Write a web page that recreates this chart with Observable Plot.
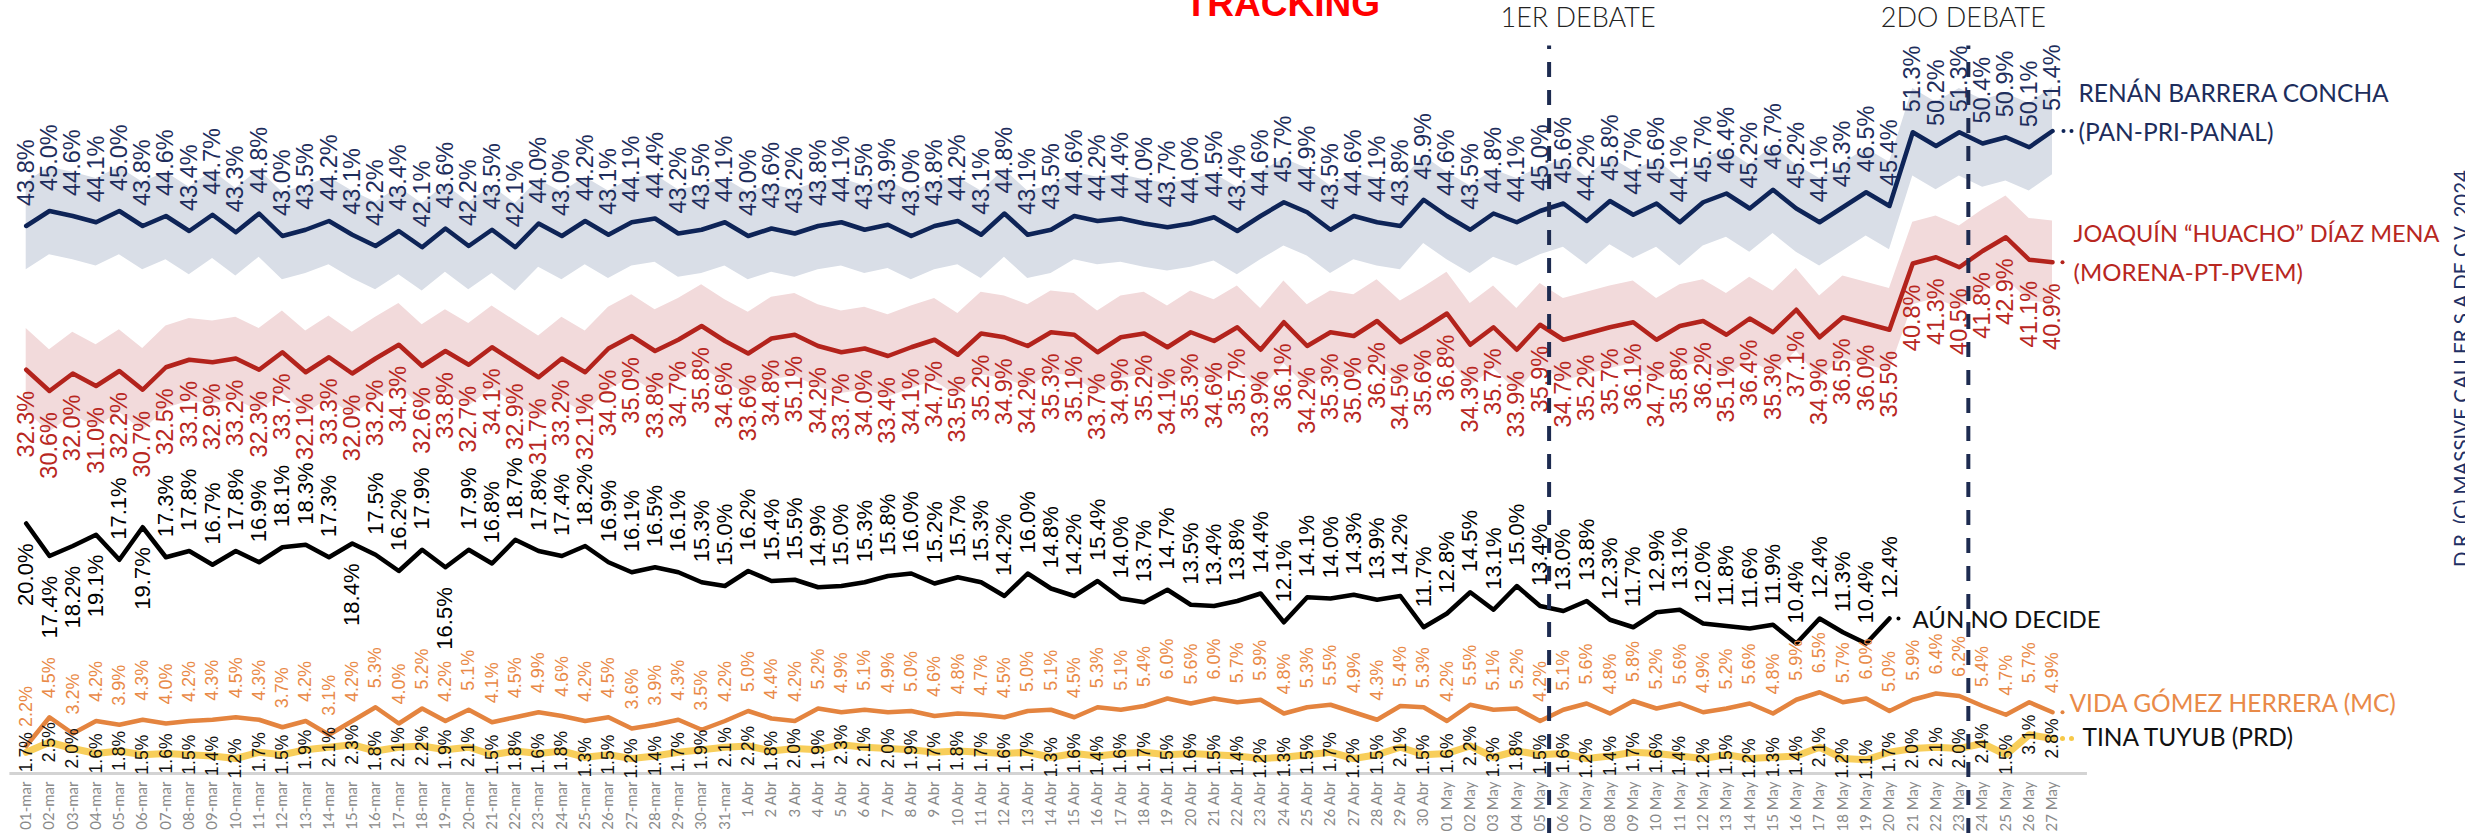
<!DOCTYPE html>
<html><head><meta charset="utf-8">
<script src="https://cdn.jsdelivr.net/npm/d3@7"></script>
<script src="https://cdn.jsdelivr.net/npm/@observablehq/plot@0.6"></script>
<style>html,body{margin:0;padding:0;background:#fff;overflow:hidden} svg{display:block}</style>
</head><body><div id="chart"></div>
<script>
const dates = ["01-mar","02-mar","03-mar","04-mar","05-mar","06-mar","07-mar","08-mar","09-mar","10-mar","11-mar","12-mar","13-mar","14-mar","15-mar","16-mar","17-mar","18-mar","19-mar","20-mar","21-mar","22-mar","23-mar","24-mar","25-mar","26-mar","27-mar","28-mar","29-mar","30-mar","31-mar",
"1 Abr","2 Abr","3 Abr","4 Abr","5 Abr","6 Abr","7 Abr","8 Abr","9 Abr","10 Abr","11 Abr","12 Abr","13 Abr","14 Abr","15 Abr","16 Abr","17 Abr","18 Abr","19 Abr","20 Abr","21 Abr","22 Abr","23 Abr","24 Abr","25 Abr","26 Abr","27 Abr","28 Abr","29 Abr","30 Abr",
"01 May","02 May","03 May","04 May","05 May","06 May","07 May","08 May","09 May","10 May","11 May","12 May","13 May","14 May","15 May","16 May","17 May","18 May","19 May","20 May","21 May","22 May","23 May","24 May","25 May","26 May","27 May"];

const renan = [43.8,45.0,44.6,44.1,45.0,43.8,44.6,43.4,44.7,43.3,
44.8,43.0,43.5,44.2,43.1,42.2,43.4,42.1,43.6,42.2,
43.5,42.1,44.0,43.0,44.2,43.1,44.1,44.4,43.2,43.5,
44.1,43.0,43.6,43.2,43.8,44.1,43.5,43.9,43.0,43.8,
44.2,43.1,44.8,43.1,43.5,44.6,44.2,44.4,44.0,43.7,
44.0,44.5,43.4,44.6,45.7,44.9,43.5,44.6,44.1,43.8,
45.9,44.6,43.5,44.8,44.1,45.0,45.6,44.2,45.8,44.7,
45.6,44.1,45.7,46.4,45.2,46.7,45.2,44.1,45.3,46.5,
45.4,51.3,50.2,51.3,50.4,50.9,50.1,51.4];

const huacho = [32.3,30.6,32.0,31.0,32.2,30.7,32.5,33.1,32.9,33.2,
32.3,33.7,32.1,33.3,32.0,33.2,34.3,32.6,33.8,32.7,
34.1,32.9,31.7,33.2,32.1,34.0,35.0,33.8,34.7,35.8,
34.6,33.6,34.8,35.1,34.2,33.7,34.0,33.4,34.1,34.7,
33.5,35.2,34.9,34.2,35.3,35.1,33.7,34.9,35.2,34.1,
35.3,34.6,35.7,33.9,36.1,34.2,35.3,35.0,36.2,34.5,
35.6,36.8,34.3,35.7,33.9,35.9,34.7,35.2,35.7,36.1,
34.7,35.8,36.2,35.1,36.4,35.3,37.1,34.9,36.5,36.0,
35.5,40.8,41.3,40.5,41.8,42.9,41.1,40.9];

const noDecide = [20.0,17.4,18.2,19.1,17.1,19.7,17.3,17.8,16.7,17.8,
16.9,18.1,18.3,17.3,18.4,17.5,16.2,17.9,16.5,17.9,
16.8,18.7,17.8,17.4,18.2,16.9,16.1,16.5,16.1,15.3,
15.0,16.2,15.4,15.5,14.9,15.0,15.3,15.8,16.0,15.2,
15.7,15.3,14.2,16.0,14.8,14.2,15.4,14.0,13.7,14.7,
13.5,13.4,13.8,14.4,12.1,14.1,14.0,14.3,13.9,14.2,
11.7,12.8,14.5,13.1,15.0,13.4,13.0,13.8,12.3,11.7,
12.9,13.1,12.0,11.8,11.6,11.9,10.4,12.4,11.3,10.4,
12.4];
const noDecideBelow = [0,1,2,3,5,14,18];

const vida = [2.2,4.5,3.2,4.2,3.9,4.3,4.0,4.2,4.3,4.5,
4.3,3.7,4.2,3.1,4.2,5.3,4.0,5.2,4.2,5.1,
4.1,4.5,4.9,4.6,4.2,4.5,3.6,3.9,4.3,3.5,
4.2,5.0,4.4,4.2,5.2,4.9,5.1,4.9,5.0,4.6,
4.8,4.7,4.5,5.0,5.1,4.5,5.3,5.1,5.4,6.0,
5.6,6.0,5.7,5.9,4.8,5.3,5.5,4.9,4.3,5.4,
5.3,4.2,5.5,5.1,5.2,4.2,5.1,5.6,4.8,5.8,
5.2,5.6,4.9,5.2,5.6,4.8,5.9,6.5,5.7,6.0,
5.0,5.9,6.4,6.2,5.4,4.7,5.7,4.9];

const tina = [1.7,2.5,2.0,1.6,1.8,1.5,1.6,1.5,1.4,1.2,
1.7,1.5,1.9,2.1,2.3,1.8,2.1,2.2,1.9,2.1,
1.5,1.8,1.6,1.8,1.3,1.5,1.2,1.4,1.7,1.9,
2.1,2.2,1.8,2.0,1.9,2.3,2.1,2.0,1.9,1.7,
1.8,1.7,1.6,1.7,1.3,1.6,1.4,1.6,1.7,1.5,
1.6,1.5,1.4,1.2,1.3,1.5,1.7,1.2,1.5,2.1,
1.5,1.6,2.2,1.3,1.8,1.5,1.6,1.2,1.4,1.7,
1.6,1.4,1.2,1.5,1.2,1.3,1.4,2.1,1.2,1.1,
1.7,2.0,2.1,2.0,2.4,1.5,3.1,2.8];

// margin of error (percentage points)
const renanMargin = 3.5;
const huachoMargin = 3.3;

const debates = [{label: "1ER DEBATE", day: "05 May"}, {label: "2DO DEBATE", day: "23 May"}];

const legendRenan = ["RENÁN BARRERA CONCHA", "(PAN-PRI-PANAL)"];
const legendHuacho = ["JOAQUÍN “HUACHO” DÍAZ MENA", "(MORENA-PT-PVEM)"];
const legendNoDecide = "AÚN NO DECIDE";
const legendVida = "VIDA GÓMEZ HERRERA (MC)";
const legendTina = "TINA TUYUB (PRD)";
const title = "TRACKING";
const credit = "D.R. (C) MASSIVE CALLER S.A DE C.V. 2024";

// ---------- build tables ----------
const rows = arr => arr.map((v, i) => ({i, v}));
const R = rows(renan), H = rows(huacho), N = rows(noDecide), V = rows(vida), T = rows(tina);
const last = arr => [{i: arr.length - 1, v: arr[arr.length - 1]}];
const dayIndex = d => dates.indexOf(d);
const fmt = d => d.v.toFixed(1) + "%";

const C = {
  blue: "#0e2457", blueBand: "#d9dee7", blueText: "#1d2d5c",
  red: "#b3231c", redBand: "#f2dadb", redText: "#b8271f",
  black: "#000000",
  orange: "#e4843f", orangeText: "#e98a48",
  yellow: "#f7c948",
  navy: "#1d2b50"
};
const numFont = "'Liberation Sans', Arial, Helvetica, sans-serif";
const legFont = "Lato, 'Open Sans', sans-serif";

const chart = Plot.plot({
  width: 2465, height: 833,
  marginLeft: 25.7, marginRight: 413, marginTop: 23, marginBottom: 60,
  x: {domain: [0, dates.length - 1], axis: null},
  y: {domain: [0, 60], axis: null},
  style: {fontFamily: numFont, background: "#fff", overflow: "visible"},
  marks: [
    // bands
    Plot.areaY(R, {x: "i", y1: d => d.v - renanMargin, y2: d => d.v + renanMargin, fill: C.blueBand}),
    Plot.areaY(H, {x: "i", y1: d => d.v - huachoMargin, y2: d => d.v + huachoMargin, fill: C.redBand}),
    // baseline
    Plot.ruleY([0], {x1: -0.7, x2: dates.length + 0.5, stroke: "#d3d3d3", strokeWidth: 3}),
    // x labels
    Plot.text(dates, {x: (d, i) => i, y: 0, text: d => d, rotate: -90, textAnchor: "end", dy: 8,
      fontSize: 15, fill: "#8a8a8a", fontFamily: legFont}),
    // lines
    Plot.line(T, {x: "i", y: "v", stroke: C.yellow, strokeWidth: 7, strokeOpacity: 0.9, strokeLinejoin: "round"}),
    Plot.line(V, {x: "i", y: "v", stroke: C.orange, strokeWidth: 4.5, strokeLinejoin: "round"}),
    Plot.line(N, {x: "i", y: "v", stroke: C.black, strokeWidth: 4.5, strokeLinejoin: "round"}),
    Plot.line(H, {x: "i", y: "v", stroke: C.red, strokeWidth: 4.5, strokeLinejoin: "round"}),
    Plot.line(R, {x: "i", y: "v", stroke: C.blue, strokeWidth: 4.5, strokeLinejoin: "round"}),
    // value labels
    Plot.text(R, {x: "i", y: "v", text: fmt, rotate: -90, textAnchor: "start", dy: -20, fontSize: 23.5, fill: C.blueText}),
    Plot.text(H, {x: "i", y: "v", text: fmt, rotate: -90, textAnchor: "end", dy: 21, fontSize: 23.5, fill: C.redText}),
    Plot.text(N.filter(d => !noDecideBelow.includes(d.i)), {x: "i", y: "v", text: fmt, rotate: -90, textAnchor: "start", dy: -20, fontSize: 22, fill: C.black}),
    Plot.text(N.filter(d => noDecideBelow.includes(d.i)), {x: "i", y: "v", text: fmt, rotate: -90, textAnchor: "end", dy: 20, fontSize: 22, fill: C.black}),
    Plot.text(V, {x: "i", y: "v", text: fmt, rotate: -90, textAnchor: "start", dy: -19, fontSize: 18, fill: C.orangeText}),
    Plot.text(T, {x: "i", y: "v", text: fmt, rotate: -90, textAnchor: "middle", dy: 0, fontSize: 17.5, fill: "#111"}),
    // debate markers
    Plot.ruleX(debates, {x: d => dayIndex(d.day), y1: -4.8, y2: 58.2, dx: 9, stroke: C.navy, strokeWidth: 4, strokeDasharray: "15,13"}),
    Plot.text(debates.slice(0, 1), {x: d => dayIndex(d.day), y: 60, text: "label", dx: 38, dy: -5, lineAnchor: "middle", fontSize: 27, fontWeight: 300, fill: "#222", fontFamily: legFont}),
    Plot.text(debates.slice(1), {x: d => dayIndex(d.day), y: 60, text: "label", dx: 4, dy: -5, lineAnchor: "middle", fontSize: 27, fontWeight: 300, fill: "#222", fontFamily: legFont}),
    // end dots
    Plot.dot(last(renan), {x: "i", y: "v", r: 2, fill: C.blue, dx: 11}),
    Plot.dot(last(renan), {x: "i", y: "v", r: 2, fill: C.blue, dx: 19}),
    Plot.dot(last(huacho), {x: "i", y: "v", r: 2, fill: C.red, dx: 10}),
    Plot.dot(last(noDecide), {x: "i", y: "v", r: 2, fill: C.black, dx: 9}),
    Plot.dot(last(vida), {x: "i", y: "v", r: 2, fill: C.orange, dx: 10}),
    Plot.dot(last(tina), {x: "i", y: "v", r: 2.5, fill: C.yellow, dx: 10}),
    Plot.dot(last(tina), {x: "i", y: "v", r: 2.5, fill: C.yellow, dx: 19}),
    // legends
    Plot.text(last(renan), {x: "i", y: "v", text: () => legendRenan[0], textAnchor: "start", dx: 26, dy: -37, fontSize: 24.5, fill: C.blueText, fontFamily: legFont}),
    Plot.text(last(renan), {x: "i", y: "v", text: () => legendRenan[1], textAnchor: "start", dx: 26, dy: 2, fontSize: 24.5, fill: C.blueText, fontFamily: legFont}),
    Plot.text(last(huacho), {x: "i", y: "v", text: () => legendHuacho[0], textAnchor: "start", dx: 21, dy: -28, fontSize: 23.5, fill: C.redText, fontFamily: legFont}),
    Plot.text(last(huacho), {x: "i", y: "v", text: () => legendHuacho[1], textAnchor: "start", dx: 21, dy: 11, fontSize: 24, fill: C.redText, fontFamily: legFont}),
    Plot.text(last(noDecide), {x: "i", y: "v", text: () => legendNoDecide, textAnchor: "start", dx: 23, dy: 2, fontSize: 24, fill: "#111", fontFamily: legFont}),
    Plot.text(last(vida), {x: "i", y: "v", text: () => legendVida, textAnchor: "start", dx: 17, dy: -8, fontSize: 24.5, fill: C.orangeText, fontFamily: legFont}),
    Plot.text(last(tina), {x: "i", y: "v", text: () => legendTina, textAnchor: "start", dx: 30, dy: 0, fontSize: 24.5, fill: "#111", fontFamily: legFont}),
    // title & credit
    Plot.text([title], {frameAnchor: "top", dx: 243, dy: -8, lineAnchor: "bottom", fontSize: 37, fontWeight: "bold", fill: "#ff0000", fontFamily: numFont}),
    Plot.text([credit], {frameAnchor: "right", dx: 416, dy: -30, rotate: -90, textAnchor: "middle", lineAnchor: "bottom", fontSize: 20.5, fill: "#1f3064", fontFamily: legFont})
  ]
});
document.getElementById("chart").appendChild(chart);
</script>
</body></html>
